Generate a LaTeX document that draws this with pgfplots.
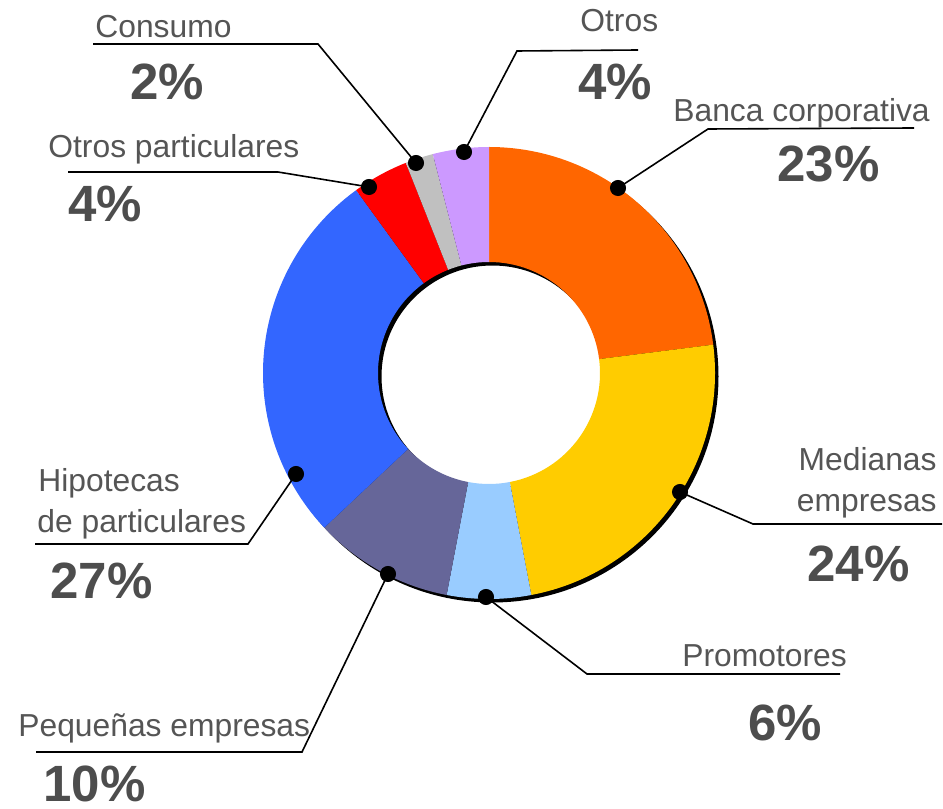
\documentclass[border=0pt]{standalone}
\usepackage{pgfplots}
\pgfplotsset{compat=1.18}
\usepackage{pgfplotstable}
\usepackage{fontspec}
\setmainfont{Liberation Sans}
\usetikzlibrary{calc}
\definecolor{slice0}{HTML}{FF6600}
\definecolor{slice1}{HTML}{FFCC00}
\definecolor{slice2}{HTML}{99CCFF}
\definecolor{slice3}{HTML}{666699}
\definecolor{slice4}{HTML}{3366FF}
\definecolor{slice5}{HTML}{FF0000}
\definecolor{slice6}{HTML}{C0C0C0}
\definecolor{slice7}{HTML}{CC99FF}
\definecolor{lbl}{HTML}{555555}
\definecolor{pct}{HTML}{4D4D4D}

\pgfplotstableread{
label value
Banca 23
Medianas 24
Promotores 6
Pequenas 10
Hipotecas 27
OtrosPart 4
Consumo 2
Otros 4
}\slices

\pgfplotstableread{
x y
618 621
680 317
486 212
388 235
296 335
369 622
416 646
464 657
}\dots

\newcommand\lab{\fontsize{15.9}{18}\selectfont\color{lbl}}
\newcommand\pc{\fontsize{25.5}{30}\selectfont\bfseries\color{pct}}

\begin{document}
\begin{tikzpicture}
\xdef\cum{0}
\foreach \i in {0,...,7}{
  \pgfplotstablegetelem{\i}{value}\of\slices
  \pgfmathsetmacro\s{90-3.6*\cum}
  \pgfmathsetmacro\e{90-3.6*(\cum+\pgfplotsretval)}
  \pgfmathsetmacro\nc{\cum+\pgfplotsretval}
  \expandafter\xdef\csname sA\i\endcsname{\s}
  \expandafter\xdef\csname eA\i\endcsname{\e}
  \xdef\cum{\nc}
}
\useasboundingbox (0,0) rectangle (471.5pt,404.5pt);
\begin{axis}[
  at={(0,0)}, anchor=south west,
  width=471.5pt, height=404.5pt, scale only axis,
  xmin=0, xmax=943, ymin=0, ymax=809,
  hide axis, clip=false,
  nodes={inner sep=0pt},
]
\coordinate (C) at (axis cs:489,436);
\coordinate (S) at (axis cs:492.5,432.5);
% shadow
\fill[black, even odd rule] (S) circle[radius=113pt] (S) circle[radius=55.5pt];
% slices
\pgfplotsinvokeforeach{0,...,7}{
  \fill[slice#1] ($(C)+(\csname sA#1\endcsname:113pt)$)
    arc[start angle=\csname sA#1\endcsname, end angle=\csname eA#1\endcsname, radius=113pt]
    -- ($(C)+(\csname eA#1\endcsname:55.5pt)$)
    arc[start angle=\csname eA#1\endcsname, end angle=\csname sA#1\endcsname, radius=55.5pt]
    -- cycle;
}
% leader lines
\addplot[black, line width=0.8pt] coordinates {(93,765) (318,765) (416,646)};
\addplot[black, line width=0.8pt] coordinates {(464,657) (517,758) (638,759)};
\addplot[black, line width=0.8pt] coordinates {(618,621) (708,680) (914,681)};
\addplot[black, line width=0.8pt] coordinates {(68,637) (278,637) (369,622)};
\addplot[black, line width=0.8pt] coordinates {(680,317) (753,285) (942,285)};
\addplot[black, line width=0.8pt] coordinates {(486,212) (587,135) (840,135)};
\addplot[black, line width=0.8pt] coordinates {(36,57) (302,57) (388,235)};
\addplot[black, line width=0.8pt] coordinates {(35,265) (248,265) (296,335)};
% dots
\addplot[only marks, mark=*, mark size=3.8pt, black] table {\dots};
% labels
\node[anchor=base west] at (axis cs:95,771) {\lab Consumo};
\node[anchor=base west] at (axis cs:130,709) {\pc 2\%};
\node[anchor=base west] at (axis cs:48,651) {\lab Otros particulares};
\node[anchor=base west] at (axis cs:68,587) {\pc 4\%};
\node[anchor=base west] at (axis cs:580,777) {\lab Otros};
\node[anchor=base west] at (axis cs:578,709) {\pc 4\%};
\node[anchor=base west] at (axis cs:673,687) {\lab Banca corporativa};
\node[anchor=base west] at (axis cs:777,627) {\pc 23\%};
\node[anchor=base west] at (axis cs:38,317) {\lab Hipotecas};
\node[anchor=base west] at (axis cs:37,276) {\lab de particulares};
\node[anchor=base west] at (axis cs:50,210) {\pc 27\%};
\node[anchor=base west] at (axis cs:18,72) {\lab Pequeñas empresas};
\node[anchor=base west] at (axis cs:43,7) {\pc 10\%};
\node[anchor=base east] at (axis cs:937,338) {\lab Medianas};
\node[anchor=base east] at (axis cs:937,297) {\lab empresas};
\node[anchor=base west] at (axis cs:807,227) {\pc 24\%};
\node[anchor=base west] at (axis cs:682,142) {\lab Promotores};
\node[anchor=base west] at (axis cs:748,68) {\pc 6\%};
\end{axis}
\end{tikzpicture}
\end{document}
